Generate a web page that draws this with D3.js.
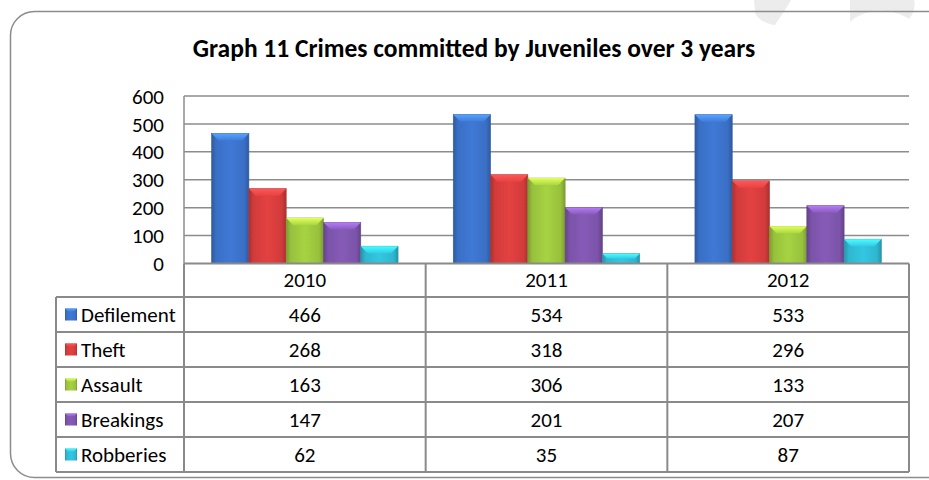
<!DOCTYPE html>
<html lang="en">
<head>
  <meta charset="UTF-8">
  <title>Graph 11 Crimes committed by Juveniles</title>
  <script src="https://d3js.org/d3.v7.min.js"></script>
  <style>
    body { margin: 0; background: #fff; }
    text { font-family: Carlito, Lato, "Open Sans", sans-serif; fill: #000; }
    .grid line { stroke: #8c8c8c; stroke-width: 1.5px; }
    .tbl line { stroke: #8a8a8a; stroke-width: 2px; }
  </style>
</head>
<body>
  <div id="chart"></div>
  <script>
    // data
    const years = ["2010", "2011", "2012"];
    const crimes = ["Defilement", "Theft", "Assault", "Breakings", "Robberies"];
    const defilement = [466, 534, 533];
    const theft = [268, 318, 296];
    const assault = [163, 306, 133];
    const breakings = [147, 201, 207];
    const robberies = [62, 35, 87];
    const yTicks = [0, 100, 200, 300, 400, 500, 600];
    const colors = ["#3a6fc4", "#d13b3b", "#98c13c", "#7b53a8", "#2fb6cf"];

    const values = [defilement, theft, assault, breakings, robberies];

    const W = 929, H = 480;
    const plot = { left: 184, right: 909, top: 96, bottom: 263.5 };
    const rowH = 35, headerBottom = 297, labelLeft = 56;
    const fs = "21px";

    const svg = d3.select("#chart").append("svg")
      .attr("width", W)
      .attr("height", H);

    const defs = svg.append("defs");

    // gradients for the bevelled bars
    colors.forEach((c, i) => {
      const dark = d3.color(c).darker(0.6);
      const light = d3.color(c).brighter(0.25);
      const g = defs.append("linearGradient")
        .attr("id", "body" + i)
        .attr("x1", 0).attr("x2", 1).attr("y1", 0).attr("y2", 0);
      g.append("stop").attr("offset", "0%").attr("stop-color", dark);
      g.append("stop").attr("offset", "12%").attr("stop-color", c);
      g.append("stop").attr("offset", "50%").attr("stop-color", light);
      g.append("stop").attr("offset", "88%").attr("stop-color", c);
      g.append("stop").attr("offset", "100%").attr("stop-color", dark);

      const t = defs.append("linearGradient")
        .attr("id", "cap" + i)
        .attr("x1", 0).attr("x2", 0).attr("y1", 0).attr("y2", 1);
      t.append("stop").attr("offset", "0%").attr("stop-color", d3.color(c).brighter(1.1));
      t.append("stop").attr("offset", "100%").attr("stop-color", d3.color(c).brighter(0.3));
    });

    // faint watermark shapes behind the frame
    svg.append("path")
      .attr("d", "M754,0 L791,0 C786,9 780,17 775,25 C767,24 759,21 755,13 Z")
      .attr("fill", "#ececec");
    svg.append("path")
      .attr("d", "M850,0 L914,0 C916,7 913,14 909,19 C898,12 884,9 870,12 C861,14 854,18 850,22 Z")
      .attr("fill", "#ececec");

    // outer rounded frame
    svg.append("rect")
      .attr("x", 10.5).attr("y", 11.5)
      .attr("width", 940).attr("height", 466)
      .attr("rx", 24).attr("ry", 24)
      .attr("fill", "none")
      .attr("stroke", "#8c8c8c")
      .attr("stroke-width", 1.5);

    // title
    svg.append("text")
      .attr("x", 474).attr("y", 57)
      .attr("text-anchor", "middle")
      .style("font-size", "25.5px")
      .style("font-weight", "bold")
      .text("Graph 11 Crimes committed by Juveniles over 3 years");

    const x0 = d3.scaleBand()
      .domain(years)
      .range([plot.left, plot.right]);

    const x1 = d3.scaleBand()
      .domain(crimes)
      .range([0, x0.bandwidth()])
      .paddingInner(0)
      .paddingOuter(0.74);

    const y = d3.scaleLinear()
      .domain([0, 600])
      .range([plot.bottom, plot.top]);

    // gridlines
    const grid = svg.append("g").attr("class", "grid");
    grid.selectAll("line")
      .data(yTicks.slice(1))
      .enter()
      .append("line")
      .attr("x1", plot.left).attr("x2", plot.right)
      .attr("y1", d => y(d)).attr("y2", d => y(d));
    grid.append("line")
      .attr("x1", plot.left).attr("x2", plot.left)
      .attr("y1", plot.top).attr("y2", plot.bottom);

    // y axis labels
    const yAxis = svg.append("g")
      .attr("transform", `translate(${plot.left}, 0)`)
      .call(d3.axisLeft(y).tickValues(yTicks).tickSize(0).tickPadding(20));
    yAxis.select(".domain").remove();
    yAxis.selectAll("text")
      .style("font-size", fs)
      .style("font-family", "Carlito, Lato, 'Open Sans', sans-serif")
      .attr("dy", "0.34em");

    // bars
    const groups = svg.selectAll(".year")
      .data(years)
      .enter()
      .append("g")
      .attr("class", "year")
      .attr("transform", d => `translate(${x0(d)}, 0)`);

    groups.each(function(yr, yi) {
      const g = d3.select(this);
      crimes.forEach((cr, ci) => {
        const v = values[ci][yi];
        const bx = x1(cr), bw = x1.bandwidth();
        const by = y(v), bh = y(0) - y(v);
        const bev = Math.min(7, bh / 2);
        g.append("rect")
          .attr("x", bx).attr("y", by)
          .attr("width", bw).attr("height", bh)
          .attr("fill", `url(#body${ci})`)
          .attr("stroke", d3.color(colors[ci]).darker(0.5))
          .attr("stroke-width", 0.6);
        g.append("path")
          .attr("d", `M${bx},${by} L${bx + bw},${by} L${bx + bw - bev},${by + bev} L${bx + bev},${by + bev} Z`)
          .attr("fill", `url(#cap${ci})`);
      });
    });

    // data table
    const tbl = svg.append("g").attr("class", "tbl");
    const tableBottom = headerBottom + rowH * crimes.length;

    // header row top is the x axis line
    tbl.append("line")
      .attr("x1", plot.left).attr("x2", plot.right)
      .attr("y1", plot.bottom).attr("y2", plot.bottom);
    tbl.selectAll(".hline")
      .data(d3.range(crimes.length + 1))
      .enter()
      .append("line")
      .attr("x1", labelLeft).attr("x2", plot.right)
      .attr("y1", i => headerBottom + i * rowH)
      .attr("y2", i => headerBottom + i * rowH);
    tbl.append("line")
      .attr("x1", labelLeft).attr("x2", labelLeft)
      .attr("y1", headerBottom).attr("y2", tableBottom);
    tbl.selectAll(".vline")
      .data(years.concat(["end"]))
      .enter()
      .append("line")
      .attr("x1", d => d === "end" ? plot.right : x0(d))
      .attr("x2", d => d === "end" ? plot.right : x0(d))
      .attr("y1", plot.bottom).attr("y2", tableBottom);

    // year header texts
    svg.selectAll(".yr")
      .data(years)
      .enter()
      .append("text")
      .attr("x", d => x0(d) + x0.bandwidth() / 2)
      .attr("y", (plot.bottom + headerBottom) / 2)
      .attr("dy", "0.34em")
      .attr("text-anchor", "middle")
      .style("font-size", fs)
      .text(d => d);

    // row labels with legend keys and values
    crimes.forEach((cr, ci) => {
      const cy = headerBottom + ci * rowH + rowH / 2;
      svg.append("rect")
        .attr("x", 65).attr("y", cy - 6)
        .attr("width", 12).attr("height", 12)
        .attr("fill", `url(#body${ci})`);
      svg.append("path")
        .attr("d", `M65,${cy - 6} L77,${cy - 6} L74,${cy - 3} L68,${cy - 3} Z`)
        .attr("fill", `url(#cap${ci})`);
      svg.append("text")
        .attr("x", 81).attr("y", cy)
        .attr("dy", "0.34em")
        .style("font-size", fs)
        .text(cr);
      years.forEach((yr, yi) => {
        svg.append("text")
          .attr("x", x0(yr) + x0.bandwidth() / 2)
          .attr("y", cy)
          .attr("dy", "0.34em")
          .attr("text-anchor", "middle")
          .style("font-size", fs)
          .text(values[ci][yi]);
      });
    });
  </script>
</body>
</html>
